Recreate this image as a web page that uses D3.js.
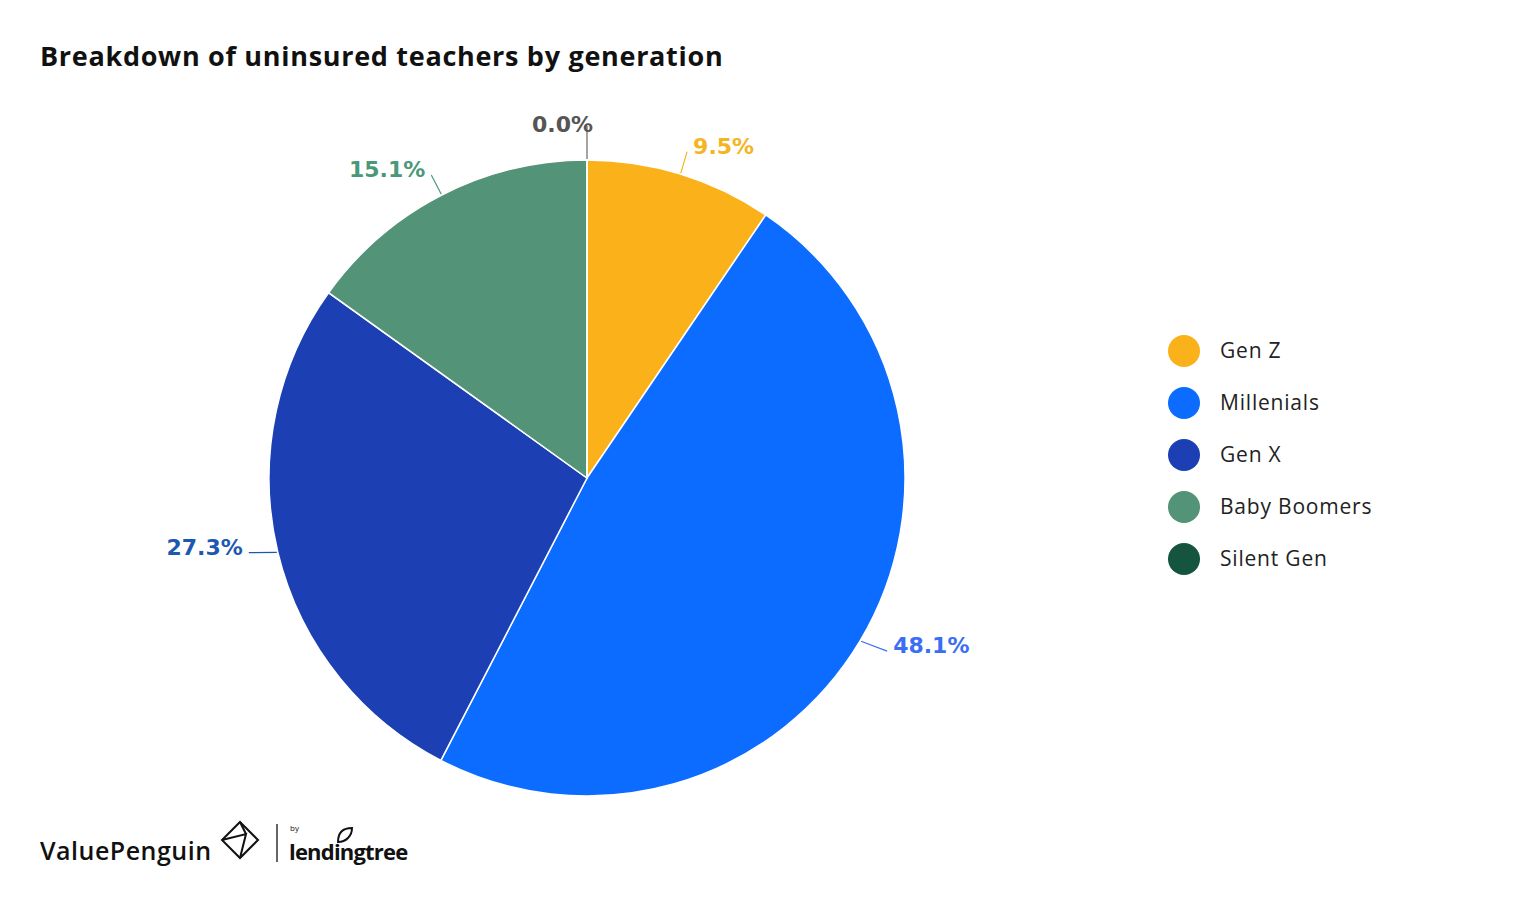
<!DOCTYPE html>
<html><head><meta charset="utf-8">
<script src="https://cdn.jsdelivr.net/npm/d3@7"></script>
<style>body{margin:0;background:#fff;}svg{display:block;}</style>
</head><body>
<svg id="c" width="1521" height="901"></svg>
<script>
const categories = ["Gen Z", "Millenials", "Gen X", "Baby Boomers", "Silent Gen"];
const values = [9.5, 48.1, 27.3, 15.1, 0.0];
const colors = ["#fbb11a", "#0b6cff", "#1c40b4", "#539378", "#15553f"];
const labelColors = ["#f4b522", "#3a6ef4", "#1d58b0", "#4a9879", "#555555"];

const svg = d3.select("#c");
const cx = 587, cy = 478, R = 318;
const F = "'Open Sans', sans-serif";
const FL = "'DejaVu Sans', sans-serif";

svg.append("text").attr("x", 40).attr("y", 66)
  .attr("font-family", F).attr("font-weight", 700)
  .attr("font-size", 27).attr("fill", "#111").attr("letter-spacing", 0.7)
  .text("Breakdown of uninsured teachers by generation");

const pie = d3.pie().sort(null).value(d => d)(values);
const arc = d3.arc().innerRadius(0).outerRadius(R);
const g = svg.append("g").attr("transform", `translate(${cx},${cy})`);
g.selectAll("path").data(pie).join("path")
  .attr("d", arc).attr("fill", (d, i) => colors[i])
  .attr("stroke", "#fff").attr("stroke-width", 1.5);

pie.forEach((d, i) => {
  const a = (d.startAngle + d.endAngle) / 2;
  const s = Math.sin(a), c = Math.cos(a);
  const zero = Math.abs(s) < 0.05;
  const r1 = R + 1, r2 = zero ? R + 34 : R + 20, rt = R + 36;
  let tx = rt * s, ty = -rt * c + (c > 0 ? 6 : -14), anchor = s > 0 ? "start" : "end";
  if (s > 0) tx += 2;
  if (zero) { tx = 6; ty = -(R + 36); anchor = "end"; }
  g.append("line")
    .attr("x1", r1 * s).attr("y1", -r1 * c)
    .attr("x2", zero ? 0 : tx - (s > 0 ? 6 : -6)).attr("y2", zero ? -r2 : ty + 6)
    .attr("stroke", zero ? "#666" : labelColors[i]).attr("stroke-width", 1.2);
  g.append("text").attr("x", tx).attr("y", ty)
    .attr("dy", "0.36em").attr("text-anchor", anchor)
    .attr("font-family", FL).attr("font-weight", 700)
    .attr("font-size", 22).attr("fill", labelColors[i])
    .text(d3.format(".1f")(values[i]) + "%");
});

const lg = svg.append("g");
categories.forEach((name, i) => {
  const y = 351 + i * 52;
  lg.append("circle").attr("cx", 1184).attr("cy", y).attr("r", 16).attr("fill", colors[i]);
  lg.append("text").attr("x", 1220).attr("y", y).attr("dy", "0.35em")
    .attr("font-family", F).attr("font-size", 21).attr("fill", "#222").attr("letter-spacing", 0.8)
    .text(name);
});

// branding
const b = svg.append("g");
b.append("text").attr("x", 40).attr("y", 860)
  .attr("font-family", F).attr("font-weight", 600)
  .attr("font-size", 25).attr("fill", "#111").attr("letter-spacing", 0.5).text("ValuePenguin");
const ic = b.append("g").attr("transform", "translate(240,840)").attr("fill", "none")
  .attr("stroke", "#111").attr("stroke-width", 2);
ic.append("path").attr("d", "M0,-18 L18,0 L0,18 L-18,0 Z");
ic.append("path").attr("d", "M-18,0 L6,-6 L0,18 M6,-6 L0,-18");
b.append("line").attr("x1", 277).attr("x2", 277).attr("y1", 824).attr("y2", 862)
  .attr("stroke", "#333").attr("stroke-width", 1.5);
b.append("text").attr("x", 290).attr("y", 831)
  .attr("font-family", F).attr("font-size", 8).attr("fill", "#111").text("by");
b.append("text").attr("x", 289).attr("y", 860)
  .attr("font-family", F).attr("font-weight", 700)
  .attr("font-size", 22).attr("fill", "#111").attr("letter-spacing", -0.8).text("lendingtree");
b.append("path").attr("d", "M338,842 C338,832 344,828 352,828 C352,836 346,842 338,842 Z")
  .attr("fill", "none").attr("stroke", "#111").attr("stroke-width", 2);
</script>
</body></html>
